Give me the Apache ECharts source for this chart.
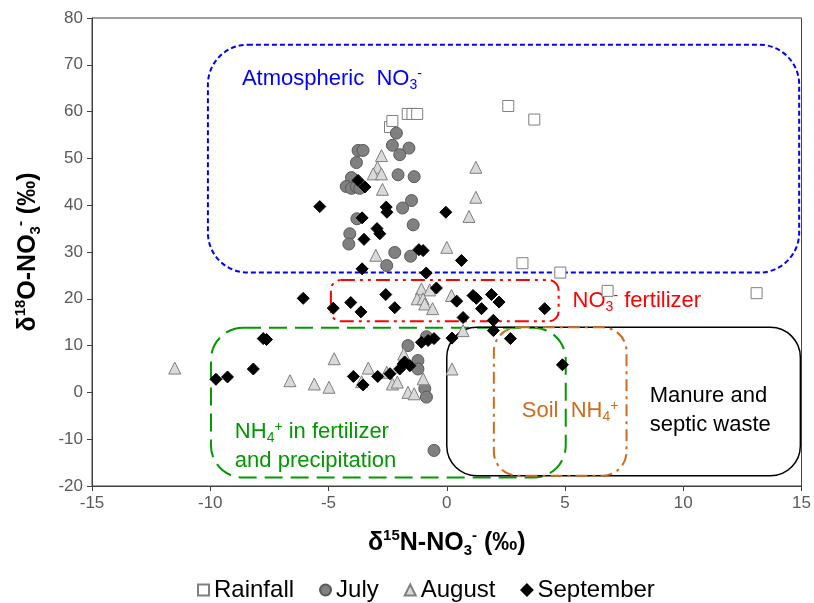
<!DOCTYPE html>
<html>
<head>
<meta charset="utf-8">
<script src="https://cdn.jsdelivr.net/npm/echarts@6/dist/echarts.min.js"></script>
<style>
  html, body { margin: 0; padding: 0; background: #fff; }
  #main { width: 814px; height: 603px; }
</style>
</head>
<body>
<div id="main"></div>
<script>
// 数据 δ15N / δ18O (‰)
var rainfall = [
    [-2.4, 56.7], [-2.3, 58.0], [-1.65, 59.5], [-1.45, 59.5], [-1.25, 59.5],
    [2.6, 61.2], [3.7, 58.3], [3.2, 27.6], [4.8, 25.6], [6.8, 21.7], [13.1, 21.2]
];
var july = [
    [-2.13, 55.4], [-2.3, 52.8], [-1.6, 52.2], [-1.99, 50.8], [-3.75, 51.7], [-3.54, 51.7],
    [-3.82, 49.1], [-2.06, 46.5], [-1.38, 46.1], [-4.03, 45.9], [-4.25, 44.0], [-4.03, 43.6],
    [-3.82, 43.9], [-3.68, 43.6], [-1.49, 41.0], [-1.87, 39.4], [-3.8, 37.1], [-1.42, 35.8],
    [-4.1, 33.9], [-4.14, 31.7], [-2.2, 29.9], [-1.53, 29.1], [-2.54, 27.1],
    [-0.86, 11.9], [-1.64, 10.0], [-1.22, 6.8], [-1.22, 5.0], [-0.93, 0.8], [-0.86, -1.0],
    [-0.54, -12.4]
];
var august = [
    [-2.76, 50.6], [-2.93, 48.1], [-3.11, 46.7], [-2.76, 46.7], [-2.72, 43.4], [1.23, 48.1],
    [1.23, 41.7], [0.94, 37.6], [-3.0, 29.3], [0.0, 31.0],
    [-1.07, 22.1], [-0.72, 21.9], [-1.25, 20.0], [-1.0, 20.0], [-0.93, 18.9], [-0.6, 17.9],
    [0.2, 20.7], [0.69, 13.2], [0.22, 5.0],
    [-11.5, 5.2], [-6.63, 2.5], [-5.6, 1.8], [-4.98, 1.1], [-4.76, 7.2], [-3.6, 2.3],
    [-3.32, 5.2], [-2.54, 4.3], [-2.3, 1.8], [-2.09, 2.2], [-1.82, 8.2], [-1.0, 2.9],
    [-1.64, 0.0], [-1.38, -0.3]
];
var september = [
    [-3.75, 45.3], [-3.46, 43.9], [-2.56, 39.6], [-2.53, 38.5], [-0.04, 38.5], [-3.58, 37.3],
    [-2.95, 35.0], [-2.83, 33.9], [-3.5, 32.7], [-5.37, 39.7], [-1.18, 30.5], [-1.0, 30.3],
    [-3.58, 26.4], [-0.87, 25.5], [0.62, 28.2],
    [-6.07, 20.1], [-4.06, 19.2], [-3.63, 17.2], [-4.8, 18.0], [-2.58, 20.9], [-2.2, 18.1],
    [-0.44, 22.3], [0.42, 19.5], [1.11, 20.7], [1.25, 20.1], [1.89, 20.9], [2.21, 19.3],
    [1.47, 17.9], [4.14, 17.9], [0.69, 16.0], [1.97, 15.4], [1.97, 13.2], [2.69, 11.5],
    [0.22, 11.6], [4.89, 5.9],
    [-1.07, 10.7], [-0.79, 11.1], [-0.54, 11.5],
    [-1.99, 5.0], [-1.78, 6.5], [-1.56, 5.7], [-1.84, 6.1], [-2.4, 4.0], [-2.92, 3.4],
    [-3.54, 1.6], [-3.95, 3.4],
    [-7.76, 11.5], [-7.62, 11.3], [-9.76, 2.8], [-9.27, 3.3], [-8.18, 5.0]
];

// 来源区域 [x1, x2, y1, y2]
var zoneBoxes = [
    [-10.1, 14.9, 25.6, 74.3],   // Atmospheric NO3-
    [-4.9, 4.73, 15.2, 24.0],    // NO3- fertilizer
    [-9.97, 5.03, -18.2, 13.8],  // NH4+ in fertilizer and precipitation
    [0.0, 14.95, -17.8, 13.9],   // Manure and septic waste
    [1.99, 7.6, -17.8, 13.9]     // Soil NH4+
];
var zoneLabels = [
    '{t|Atmospheric  NO}{sub|3}{sup|-}',
    '{t|NO}{sub|3}{sup|-}{t| fertilizer}',
    '{t|NH}{sub|4}{sup|+}{t| in fertilizer}\n{t|and precipitation}',
    '{t|Manure and}\n{t|septic waste}',
    '{t|Soil  NH}{sub|4}{sup|+}'
];
var zoneLabelAt = [
    [-8.66, 67.0], [5.32, 19.6], [-8.96, -11.5], [8.58, -3.8], [3.17, -3.9]
];
var zoneColors = ['#0000ff', '#ff0000', '#009900', '#000000', '#d06a1c'];
var zoneDash = [[5, 3], [14, 5, 3, 5, 3, 5], [18, 8], null, [12, 5, 3, 5]];
var zoneRadius = [40, 10, 32, 30, 24];

var xTicks = [-15, 15, 5];
var yTicks = [-20, 80, 10];

var myChart = echarts.init(document.getElementById('main'));

var fontMain = "'Liberation Sans', Arial, sans-serif";

function richFor(color) {
    return {
        t: { fill: color, color: color, fontSize: 22, fontFamily: fontMain, lineHeight: 29 },
        sub: { fill: color, color: color, fontSize: 14, fontFamily: fontMain, lineHeight: 14, verticalAlign: 'bottom', padding: [0, 0, 1, 0] },
        sup: { fill: color, color: color, fontSize: 14, fontFamily: fontMain, lineHeight: 14, verticalAlign: 'top', padding: [3, 0, 0, 0] }
    };
}

var titleRich = {
    t: { fontSize: 25, fontWeight: 'bold', fontFamily: fontMain, color: '#000', lineHeight: 30 },
    sub: { fontSize: 15, fontWeight: 'bold', fontFamily: fontMain, color: '#000', lineHeight: 15, verticalAlign: 'bottom' },
    sup: { fontSize: 15, fontWeight: 'bold', fontFamily: fontMain, color: '#000', lineHeight: 15, verticalAlign: 'top' }
};

function sc(name, data, symbol, size, fill, border) {
    return {
        name: name,
        type: 'scatter',
        data: data,
        symbol: symbol,
        symbolSize: size,
        z: 3,
        itemStyle: { color: fill, borderColor: border, borderWidth: 1, opacity: 1 }
    };
}

var option = {
    animation: false,
    backgroundColor: '#fff',
    grid: {
        left: 92, right: 12, top: 18, bottom: 117,
        show: true, borderColor: '#404040', borderWidth: 1
    },
    legend: {
        data: ['Rainfall', 'July', 'August', 'September'],
        bottom: -4,
        left: 192,
        itemWidth: 11,
        itemHeight: 11,
        itemGap: 25,
        textStyle: { fontSize: 24, color: '#000', fontFamily: fontMain, padding: [0, 0, 0, 0] }
    },
    xAxis: {
        type: 'value',
        min: xTicks[0], max: xTicks[1], interval: xTicks[2],
        name: '{t|δ}{sup|15}{t|N-NO}{sub|3}{sup|-}{t| (‰)}',
        nameLocation: 'middle',
        nameGap: 42,
        nameTextStyle: { rich: titleRich },
        axisLine: { onZero: false, lineStyle: { color: '#404040', width: 1 } },
        axisTick: { show: true, inside: false, length: 5, lineStyle: { color: '#404040' } },
        axisLabel: { fontSize: 17, color: '#595959', fontFamily: fontMain, margin: 9 },
        splitLine: { show: false }
    },
    yAxis: {
        type: 'value',
        min: yTicks[0], max: yTicks[1], interval: yTicks[2],
        name: '{t|δ}{sup|18}{t|O-NO}{sub|3}{sup|-}{t| (‰)}',
        nameLocation: 'middle',
        nameRotate: 90,
        nameGap: 49,
        nameTextStyle: { rich: titleRich },
        axisLine: { show: true, onZero: false, lineStyle: { color: '#404040', width: 1 } },
        axisTick: { show: true, inside: false, length: 5, lineStyle: { color: '#404040' } },
        axisLabel: { fontSize: 17, color: '#595959', fontFamily: fontMain, margin: 9 },
        splitLine: { show: false }
    },
    series: [
        {
            name: 'zones',
            type: 'custom',
            z: 2,
            silent: true,
            encode: { x: [0, 1], y: [2, 3] },
            data: zoneBoxes,
            renderItem: function(params, api) {
                var i = params.dataIndex;
                var p1 = api.coord([api.value(0), api.value(3)]);
                var p2 = api.coord([api.value(1), api.value(2)]);
                var at = api.coord(zoneLabelAt[i]);
                return {
                    type: 'group',
                    children: [{
                        type: 'rect',
                        shape: { x: p1[0], y: p1[1], width: p2[0] - p1[0], height: p2[1] - p1[1], r: zoneRadius[i] },
                        style: { fill: 'none', stroke: zoneColors[i], lineWidth: i == 3 ? 1.5 : 2, lineDash: zoneDash[i] }
                    }, {
                        type: 'text',
                        x: at[0], y: at[1],
                        style: {
                            text: zoneLabels[i],
                            rich: richFor(zoneColors[i]),
                            fill: zoneColors[i],
                            align: 'left',
                            verticalAlign: 'middle'
                        }
                    }]
                };
            }
        },
        sc('Rainfall', rainfall, 'rect', 11, '#ffffff', '#7f7f7f'),
        sc('July', july, 'circle', 12, '#808080', '#595959'),
        sc('August', august, 'triangle', 12, '#d9d9d9', '#7f7f7f'),
        sc('September', september, 'diamond', 12, '#000000', '#000000')
    ]
};

myChart.setOption(option);
</script>
</body>
</html>
